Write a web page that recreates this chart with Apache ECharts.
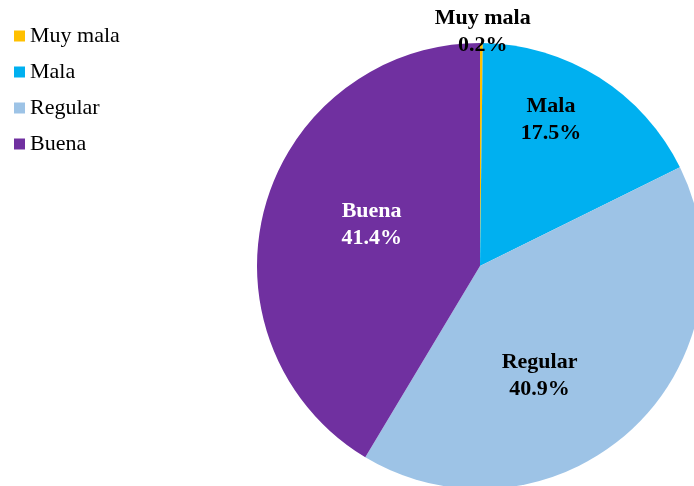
<!DOCTYPE html>
<html>
<head>
<meta charset="utf-8">
<script src="https://cdn.jsdelivr.net/npm/echarts@6/dist/echarts.min.js"></script>
<style>
  html, body { margin: 0; padding: 0; background: #fff; }
  #chart { width: 694px; height: 486px; }
</style>
</head>
<body>
<div id="chart"></div>
<script>
  // datos del gráfico
  var categories = ['Muy mala', 'Mala', 'Regular', 'Buena'];
  var percents = [0.2, 17.5, 40.9, 41.4];

  var colors = ['#FFC000', '#00B0F0', '#9DC3E6', '#7030A0'];
  var labelColors = ['#000', '#000', '#000', '#fff'];
  // desplazamiento de etiquetas respecto a la posición "inside"
  var labelOffsets = [[2, -120], [10, -49], [-18, 26], [2, -11]];

  var chart = echarts.init(document.getElementById('chart'));

  var pieData = categories.map(function (name, i) {
    return {
      name: name,
      value: percents[i],
      itemStyle: { color: colors[i] },
      label: { color: labelColors[i], offset: labelOffsets[i] }
    };
  });

  chart.setOption({
    animation: false,
    legend: {
      orient: 'vertical',
      left: 9,
      top: 20,
      itemWidth: 11,
      itemHeight: 11,
      itemGap: 14,
      icon: 'rect',
      textStyle: {
        fontFamily: 'Liberation Serif',
        fontSize: 22,
        color: '#000'
      },
      data: categories
    },
    series: [{
      type: 'pie',
      center: [480, 266],
      radius: 223,
      startAngle: 90,
      clockwise: true,
      avoidLabelOverlap: false,
      label: {
        show: true,
        position: 'inside',
        fontFamily: 'Liberation Serif',
        fontWeight: 'bold',
        fontSize: 22,
        lineHeight: 27,
        formatter: function (p) {
          return p.name + '\n' + p.value.toFixed(1) + '%';
        }
      },
      labelLine: { show: false },
      emphasis: { disabled: true },
      data: pieData
    }]
  });
</script>
</body>
</html>
